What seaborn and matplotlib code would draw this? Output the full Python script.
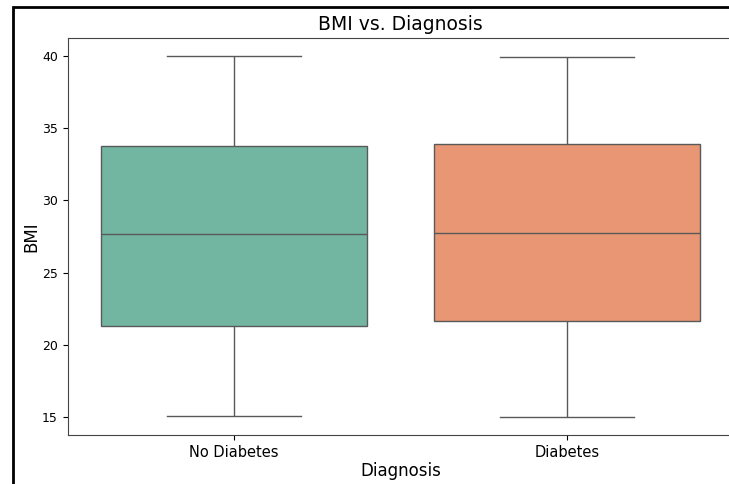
import matplotlib
matplotlib.use("Agg")
import matplotlib.pyplot as plt
from matplotlib.patches import Rectangle
import seaborn as sns
import pandas as pd

# Five-number summaries of BMI for each diagnosis group
no_diabetes_bmi = [15.05, 21.30, 27.67, 33.78, 40.00]
diabetes_bmi = [15.00, 21.64, 27.74, 33.93, 39.93]
labels = ["No Diabetes", "Diabetes"]

df = pd.DataFrame({
    "Diagnosis": [labels[0]] * len(no_diabetes_bmi) + [labels[1]] * len(diabetes_bmi),
    "BMI": no_diabetes_bmi + diabetes_bmi,
})

fig = plt.figure(figsize=(7.29, 4.84), dpi=100)
ax = fig.add_axes([67.5 / 729, 1 - 435 / 484, 666 / 729, 397 / 484])

sns.boxplot(data=df, x="Diagnosis", y="BMI", hue="Diagnosis", palette="Set2",
            order=labels, hue_order=labels, legend=False, ax=ax, width=0.8)

ax.set_title("BMI vs. Diagnosis", fontsize=13.5, pad=6)
ax.set_xlabel("Diagnosis", fontsize=12, labelpad=2)
ax.set_ylabel("BMI", fontsize=12, labelpad=1)
ax.tick_params(axis="x", labelsize=10.5)
ax.tick_params(axis="y", labelsize=9)
for s in ax.spines.values():
    s.set_color("#444444")

# Frame around the figure
fig.patches.append(Rectangle((13 / 729, -0.1), 1.2, (1 - 7 / 484) + 0.1,
                             transform=fig.transFigure, fill=False,
                             edgecolor="black", linewidth=2, zorder=10))

fig.savefig("out.png", dpi=100)
